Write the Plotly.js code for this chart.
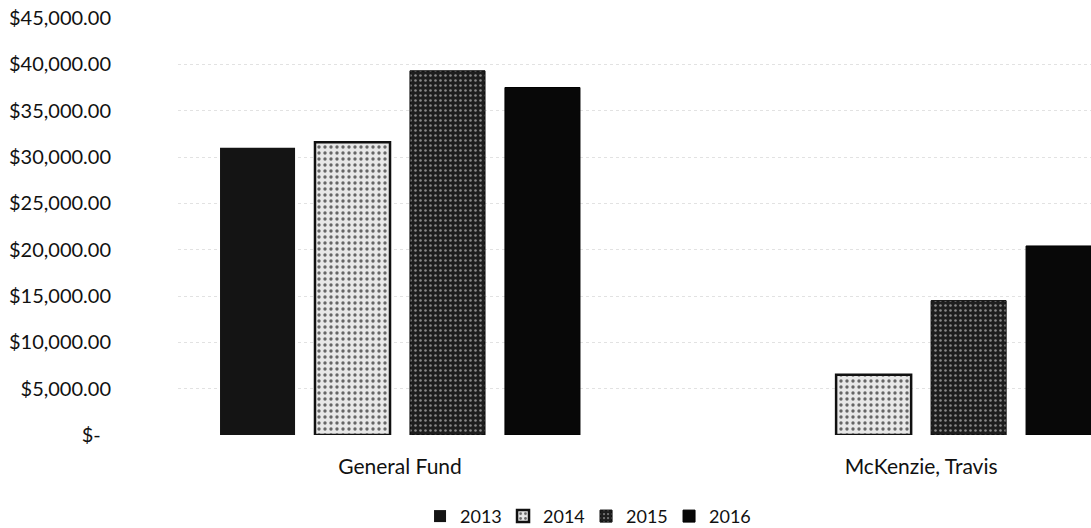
<!DOCTYPE html>
<html>
<head>
<meta charset="utf-8">
<script src="https://cdn.plot.ly/plotly-3.0.1.min.js"></script>
<style>html,body{margin:0;padding:0;background:#fff;}#chart{width:1091px;height:528px;}</style>
</head>
<body>
<div id="chart"></div>
<script>
var categories = ["General Fund", "McKenzie, Travis"];
var years = ["2013", "2014", "2015", "2016"];
var v2013 = [31000, 0];
var v2014 = [31600, 6500];
var v2015 = [39300, 14500];
var v2016 = [37500, 20400];
var yTickVals = [0, 5000, 10000, 15000, 20000, 25000, 30000, 35000, 40000, 45000];
var yTickText = ["$-\u00a0\u00a0", "$5,000.00", "$10,000.00", "$15,000.00", "$20,000.00", "$25,000.00", "$30,000.00", "$35,000.00", "$40,000.00", "$45,000.00"];

var seriesVals = [v2013, v2014, v2015, v2016];
var styles = [
  {color: "#141414", line: {color: "#000", width: 0}, pattern: {shape: ""}},
  {color: "#e4e4e4", line: {color: "#111", width: 2.5}, pattern: {shape: ".", fgcolor: "#666", bgcolor: "#e8e8e8", size: 6, solidity: 0.25}},
  {color: "#2a2a2a", line: {color: "#000", width: 1}, pattern: {shape: ".", fgcolor: "#8a8a8a", bgcolor: "#1e1e1e", size: 5, solidity: 0.2}},
  {color: "#080808", line: {color: "#000", width: 1}, pattern: {shape: ""}}
];
var traces = years.map(function (y, i) {
  return {
    type: "bar", name: y, x: categories, y: seriesVals[i],
    marker: styles[i], hoverinfo: "none"
  };
});

var layout = {
  width: 1091, height: 528,
  margin: {l: 178, r: 0, t: 18, b: 93},
  paper_bgcolor: "#fff", plot_bgcolor: "#fff",
  barmode: "group", bargap: 0.271, bargroupgap: 0.21,
  font: {family: "Lato, 'Open Sans', sans-serif", color: "#111"},
  xaxis: {
    type: "category", range: [-0.426, 1.326],
    showgrid: false, zeroline: false, showline: false, ticks: "",
    tickfont: {size: 21, color: "#111"}, ticklabelstandoff: 17
  },
  yaxis: {
    range: [0, 45000], tickvals: yTickVals, ticktext: yTickText,
    showgrid: true, gridcolor: "#e2e2e2", griddash: "dot", gridwidth: 1,
    zeroline: false, showline: false, ticks: "",
    tickfont: {size: 20, color: "#111"}, ticklabelstandoff: 66
  },
  showlegend: true,
  legend: {
    orientation: "h", xref: "container", yref: "container",
    x: 0.385, xanchor: "left", y: 0.022, yanchor: "middle",
    font: {size: 18, color: "#111"}, itemwidth: 30,
    entrywidth: 38, entrywidthmode: "pixels",
    traceorder: "normal"
  }
};

Plotly.newPlot("chart", traces, layout, {displayModeBar: false, staticPlot: true});
</script>
</body>
</html>
